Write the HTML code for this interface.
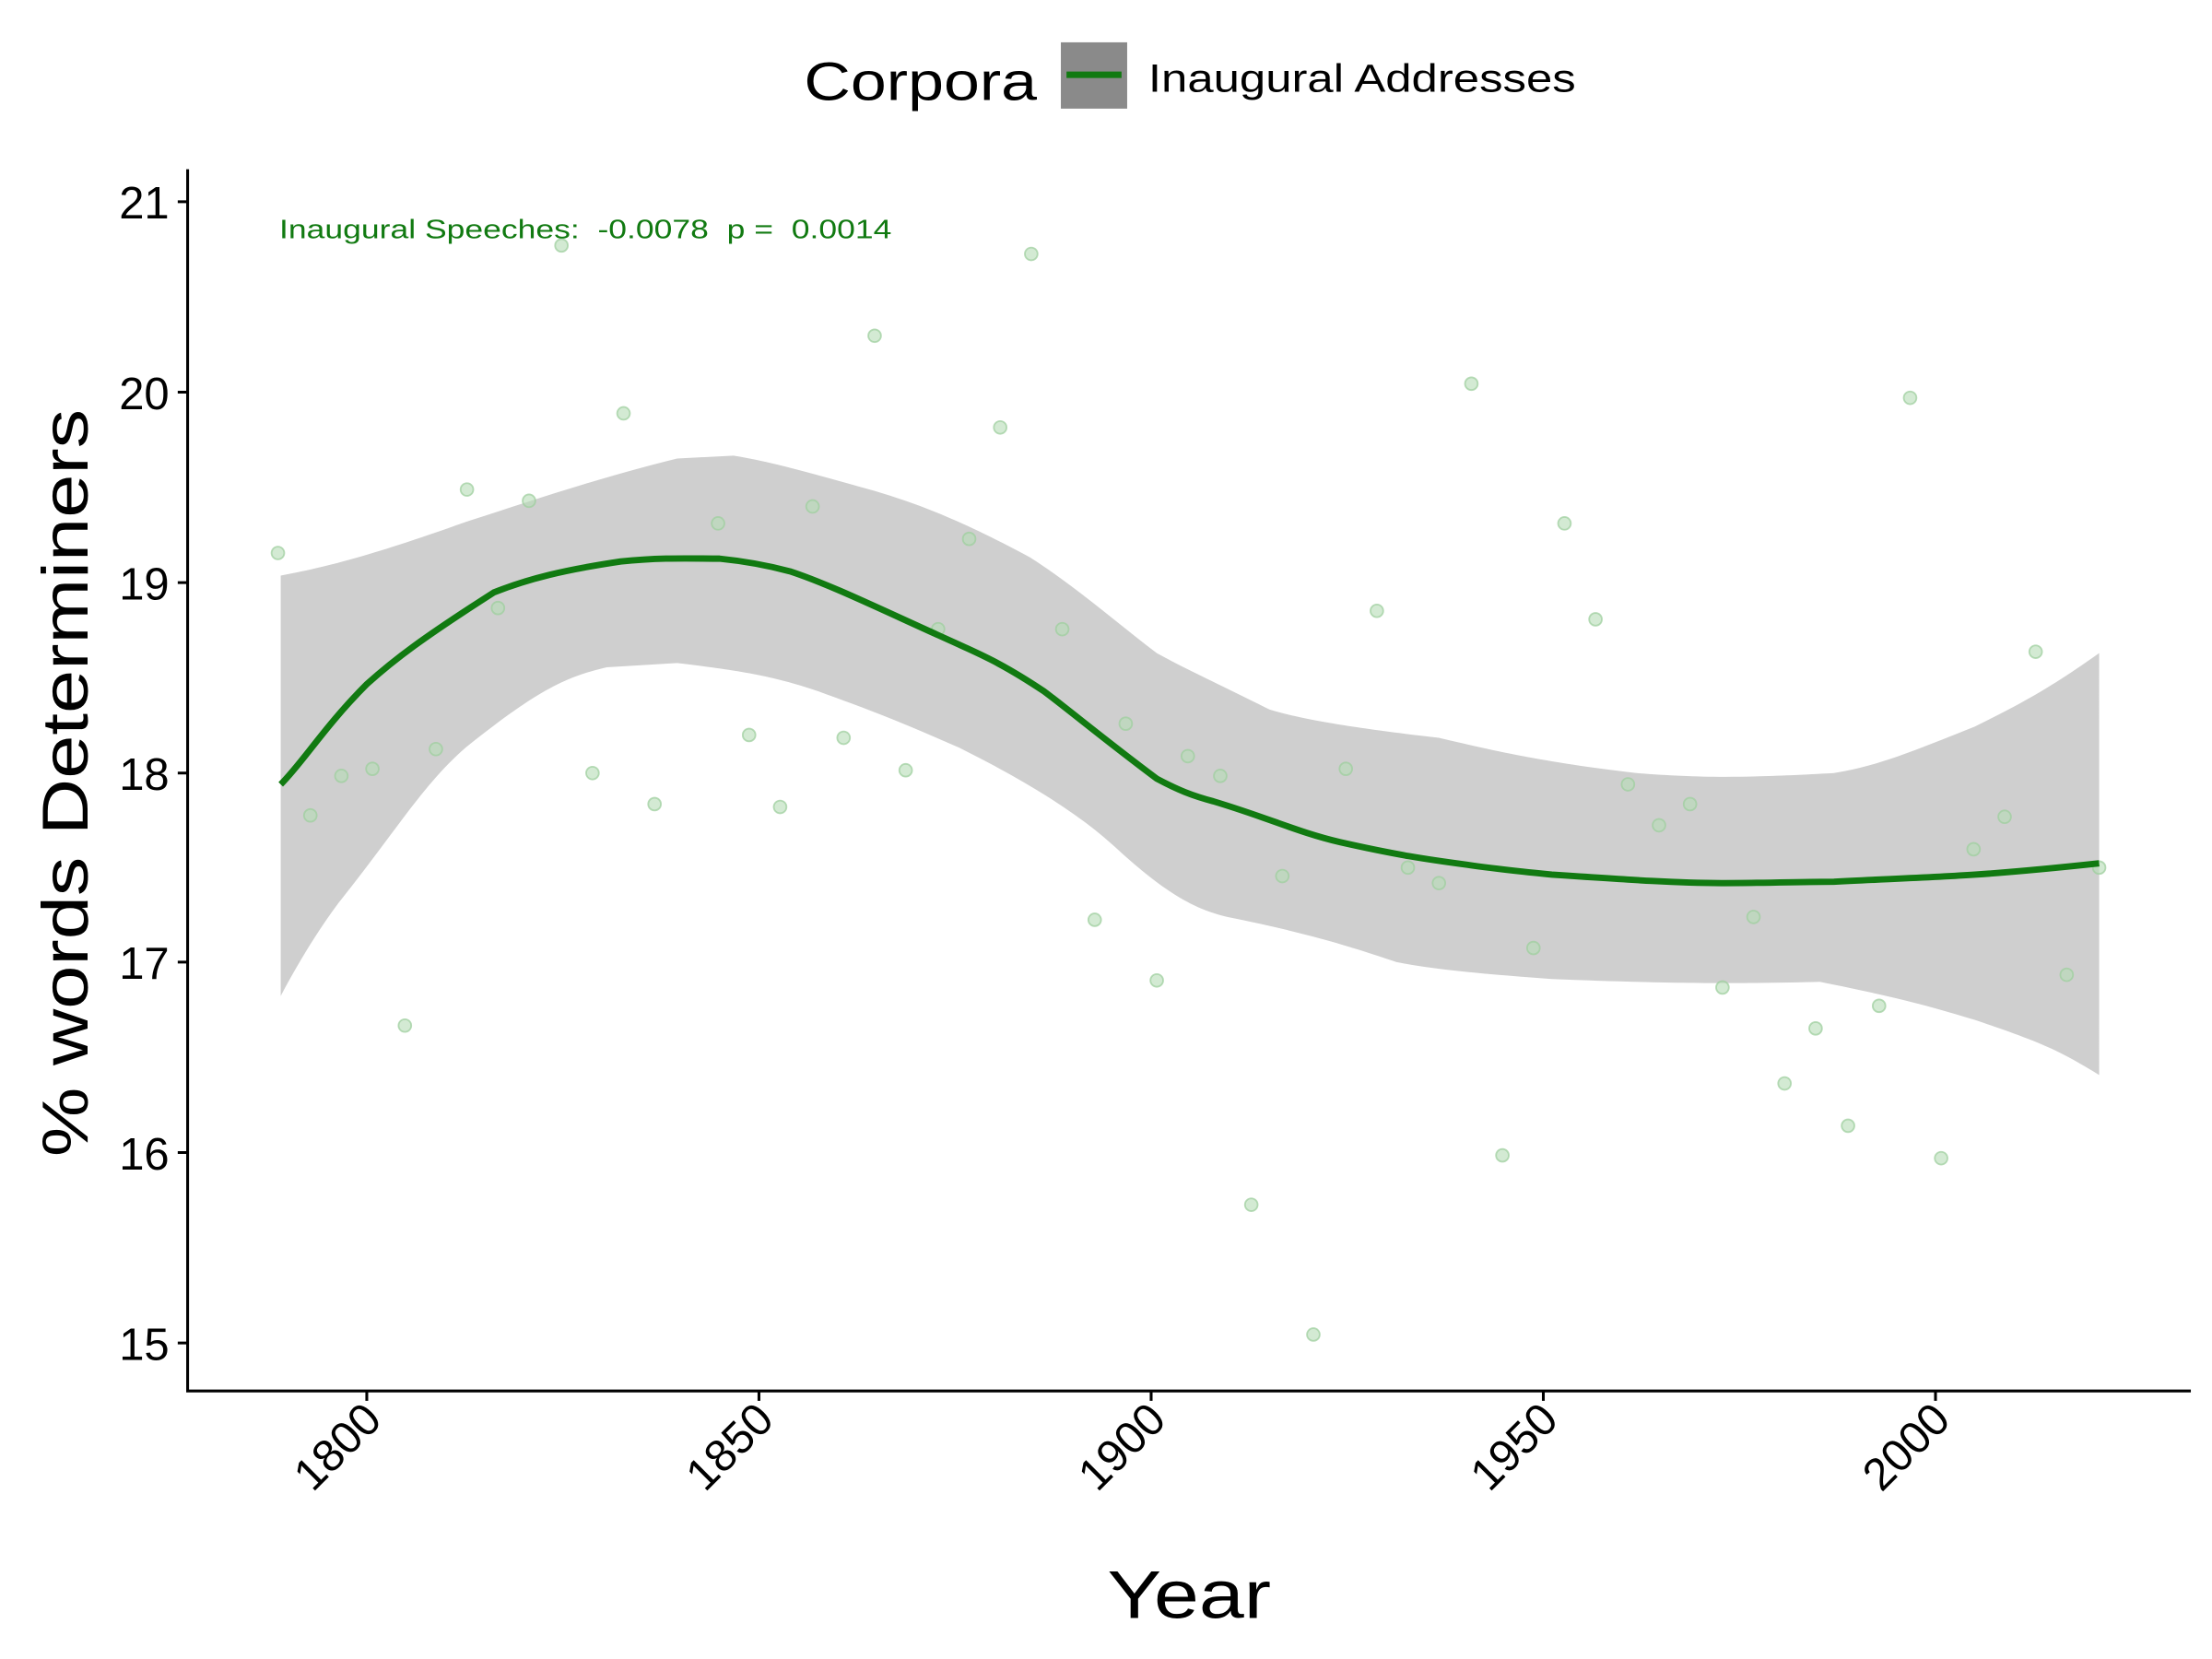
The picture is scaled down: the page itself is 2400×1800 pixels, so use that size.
<!DOCTYPE html>
<html><head><meta charset="utf-8"><style>html,body{margin:0;padding:0;background:#fff}svg{display:block}text{white-space:pre}</style></head>
<body>
<svg width="2400" height="1800" viewBox="0 0 1568 1176" xmlns="http://www.w3.org/2000/svg" font-family="Liberation Sans, sans-serif">
<rect width="1568" height="1176" fill="#fff"/>
<path fill="#cfcfcf" d="M199,408 C230,402 260,395 330,370 C380,354 420,340 480,325 L520,323 C545,327 570,334 620,348 C650,357 680,368 730,395 C760,414 790,440 820,463 C840,474 860,483 900,503 C920,509 950,515 1020,523 C1050,530 1090,540 1160,548 C1200,551 1230,552 1300,548 C1330,543 1350,535 1400,515 C1430,500 1450,490 1488,463 L1488,762 C1460,745 1450,740 1400,723 C1370,714 1350,708 1290,696 C1250,697 1200,698 1100,694 C1060,691 1020,688 990,682 C960,672 930,662 870,650 C850,645 830,637 790,600 C770,582 740,560 680,530 C650,517 630,508 580,490 C550,480 530,476 480,470 L430,473 C400,480 380,490 330,530 C300,556 280,590 240,640 C225,660 210,685 199,706 Z"/>
<g fill="#b5dcb5" fill-opacity="0.6" stroke="#9fcf9f" stroke-opacity="0.75" stroke-width="1.2">
<circle cx="197" cy="392" r="4.5"/><circle cx="220" cy="578" r="4.5"/><circle cx="242" cy="550" r="4.5"/><circle cx="264" cy="545" r="4.5"/><circle cx="287" cy="727" r="4.5"/><circle cx="309" cy="531" r="4.5"/><circle cx="331" cy="347" r="4.5"/><circle cx="353" cy="431" r="4.5"/><circle cx="375" cy="355" r="4.5"/><circle cx="398" cy="174" r="4.5"/><circle cx="420" cy="548" r="4.5"/><circle cx="442" cy="293" r="4.5"/><circle cx="464" cy="570" r="4.5"/><circle cx="509" cy="371" r="4.5"/><circle cx="531" cy="521" r="4.5"/><circle cx="553" cy="572" r="4.5"/><circle cx="576" cy="359" r="4.5"/><circle cx="598" cy="523" r="4.5"/><circle cx="620" cy="238" r="4.5"/><circle cx="642" cy="546" r="4.5"/><circle cx="665" cy="446" r="4.5"/><circle cx="687" cy="382" r="4.5"/><circle cx="709" cy="303" r="4.5"/><circle cx="731" cy="180" r="4.5"/><circle cx="753" cy="446" r="4.5"/><circle cx="776" cy="652" r="4.5"/><circle cx="798" cy="513" r="4.5"/><circle cx="820" cy="695" r="4.5"/><circle cx="842" cy="536" r="4.5"/><circle cx="865" cy="550" r="4.5"/><circle cx="887" cy="854" r="4.5"/><circle cx="909" cy="621" r="4.5"/><circle cx="931" cy="946" r="4.5"/><circle cx="954" cy="545" r="4.5"/><circle cx="976" cy="433" r="4.5"/><circle cx="998" cy="615" r="4.5"/><circle cx="1020" cy="626" r="4.5"/><circle cx="1043" cy="272" r="4.5"/><circle cx="1065" cy="819" r="4.5"/><circle cx="1087" cy="672" r="4.5"/><circle cx="1109" cy="371" r="4.5"/><circle cx="1131" cy="439" r="4.5"/><circle cx="1154" cy="556" r="4.5"/><circle cx="1176" cy="585" r="4.5"/><circle cx="1198" cy="570" r="4.5"/><circle cx="1221" cy="700" r="4.5"/><circle cx="1243" cy="650" r="4.5"/><circle cx="1265" cy="768" r="4.5"/><circle cx="1287" cy="729" r="4.5"/><circle cx="1310" cy="798" r="4.5"/><circle cx="1332" cy="713" r="4.5"/><circle cx="1354" cy="282" r="4.5"/><circle cx="1376" cy="821" r="4.5"/><circle cx="1399" cy="602" r="4.5"/><circle cx="1421" cy="579" r="4.5"/><circle cx="1443" cy="462" r="4.5"/><circle cx="1465" cy="691" r="4.5"/><circle cx="1488" cy="615" r="4.5"/>
</g>
<path fill="none" stroke="#117a11" stroke-width="4.5" d="M199,556 C215,540 230,515 260,485 C280,467 300,452 350,420 C375,410 400,404 440,398 C470,395 490,396 510,396 C530,398 545,401 560,405 C590,415 620,430 680,457 C695,464 710,470 740,490 C760,505 780,522 820,552 C835,560 845,564 860,568 C900,580 920,590 950,597 C990,606 1010,609 1040,613 C1060,616 1080,618 1100,620 C1160,624 1190,626 1220,626 C1250,626 1280,625 1300,625 C1340,623 1370,622 1400,620 C1430,618 1460,615 1488,612"/>
<text x="198" y="169" font-size="19" fill="#117a11" textLength="434" lengthAdjust="spacingAndGlyphs">Inaugural Speeches:  -0.0078  p =  0.0014</text>
<g stroke="#000" stroke-width="2" fill="none">
<path d="M133,120 V986 H1553"/>
<path d="M126,143 H133 M126,278 H133 M126,413 H133 M126,548 H133 M126,682 H133 M126,817 H133 M126,952 H133"/>
<path d="M260,986 V993 M538,986 V993 M816,986 V993 M1094,986 V993 M1372,986 V993"/>
</g>
<g font-size="32" text-anchor="end" fill="#000">
<text x="120" y="155">21</text><text x="120" y="290">20</text><text x="120" y="425">19</text><text x="120" y="560">18</text><text x="120" y="694">17</text><text x="120" y="829">16</text><text x="120" y="964">15</text>
</g>
<g font-size="32" text-anchor="end" fill="#000">
<text transform="translate(272,1008) rotate(-45)">1800</text>
<text transform="translate(550,1008) rotate(-45)">1850</text>
<text transform="translate(828,1008) rotate(-45)">1900</text>
<text transform="translate(1106,1008) rotate(-45)">1950</text>
<text transform="translate(1384,1008) rotate(-45)">2000</text>
</g>
<text x="785" y="1147" font-size="48" textLength="116" lengthAdjust="spacingAndGlyphs">Year</text>
<text transform="translate(62,820) rotate(-90)" font-size="46" textLength="530" lengthAdjust="spacingAndGlyphs">% words Determiners</text>
<text x="570" y="71" font-size="38" textLength="165" lengthAdjust="spacingAndGlyphs">Corpora</text>
<rect x="752" y="30" width="47" height="47" fill="#8a8a8a"/>
<line x1="756" y1="53" x2="795" y2="53" stroke="#117a11" stroke-width="4.5"/>
<text x="814" y="65" font-size="28" textLength="303" lengthAdjust="spacingAndGlyphs">Inaugural Addresses</text>
</svg>
</body></html>
